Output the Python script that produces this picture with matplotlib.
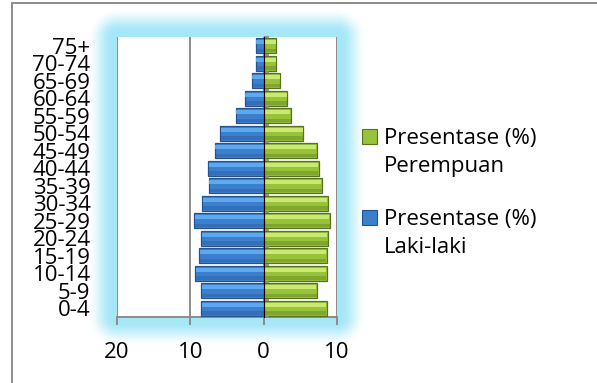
import numpy as np
import matplotlib
matplotlib.use("Agg")
import matplotlib.pyplot as plt
from matplotlib.patches import Rectangle
from matplotlib.legend_handler import HandlerBase
from matplotlib.ticker import FuncFormatter, NullFormatter

# Age groups, bottom to top
age_groups = ["0-4", "5-9", "10-14", "15-19", "20-24", "25-29", "30-34", "35-39",
              "40-44", "45-49", "50-54", "55-59", "60-64", "65-69", "70-74", "75+"]
# Percentage of population per age group
pct_female = [8.6, 7.3, 8.6, 8.6, 8.8, 9.1, 8.8, 8.0, 7.5, 7.3, 5.4, 3.7, 3.2, 2.2, 1.7, 1.7]
pct_male = [8.6, 8.5, 9.3, 8.8, 8.5, 9.5, 8.4, 7.5, 7.6, 6.7, 5.9, 3.8, 2.6, 1.6, 1.1, 1.1]
x_ticks = [-20, -10, 0, 10]

label_female = "Presentase (%)\nPerempuan"
label_male = "Presentase (%)\nLaki-laki"

FONT = "Open Sans"
FS = 16
GRAY = "#8c8c8c"
GREEN = ("#98c23a", "#d2f07a", "#58731d")   # face, highlight, edge
BLUE = ("#3c7fcf", "#62b1f4", "#27528f")

W, H = 597, 383
fig = plt.figure(figsize=(W / 100, H / 100), dpi=100)
fig.patch.set_facecolor("white")

# plot area (pixels, top-left origin)
px0, px1, py0, py1 = 117, 337, 37, 317

# soft cyan glow around the plot area
yy, xx = np.mgrid[0:H, 0:W] + 0.5
dx = np.maximum(np.maximum(px0 - xx, xx - px1), 0)
dy = np.maximum(np.maximum(py0 - yy, yy - py1), 0)
d = np.hypot(dx, dy)
t = np.clip((d - 5) / 24, 0, 1)
alpha = 1 - t * t * (3 - 2 * t)
glow = np.zeros((H, W, 4))
glow[..., 0] = 166 / 255
glow[..., 1] = 231 / 255
glow[..., 2] = 247 / 255
glow[..., 3] = alpha
fig.figimage(glow, 0, 0, origin="upper", zorder=0)

# outer frame (top and left edges visible)
fig.add_artist(Rectangle((12 / W, -0.2), 2, 1.2 - 3 / H, transform=fig.transFigure,
                         fill=False, ec=GRAY, lw=1.4, zorder=1))

ax = fig.add_axes([px0 / W, 1 - py1 / H, (px1 - px0) / W, (py1 - py0) / H])
ax.set_zorder(2)
ax.set_facecolor("white")

y = np.arange(len(age_groups))
female = np.array(pct_female)
male = -np.array(pct_male)
bh = 0.88

def bevel_bars(vals, cols, label):
    face, light, edge = cols
    bars = ax.barh(y, vals, height=bh, color=face, edgecolor=edge, linewidth=0.9,
                   zorder=3, label=label)
    ax.barh(y + bh * 0.22, vals * 0.985, height=bh * 0.26, color=light,
            edgecolor="none", zorder=4, alpha=0.85)
    ax.barh(y - bh * 0.3, vals * 0.99, height=bh * 0.22, color=edge,
            edgecolor="none", zorder=4, alpha=0.35)
    return bars

bars_m = bevel_bars(male, BLUE, label_male)
bars_f = bevel_bars(female, GREEN, label_female)

ax.set_xlim(-20, 10)
ax.set_ylim(-0.5, len(age_groups) - 0.5)
ax.set_xticks(x_ticks)
ax.xaxis.set_major_formatter(FuncFormatter(lambda v, p: f"{abs(v):g}"))
ax.grid(axis="x", color=GRAY, lw=1.4, zorder=1)
ax.set_axisbelow(True)
for s in ["top", "left", "right"]:
    ax.spines[s].set_visible(False)
ax.spines["bottom"].set_color(GRAY)
ax.spines["bottom"].set_linewidth(1.4)
ax.tick_params(axis="x", length=6, width=1.4, color=GRAY, pad=12,
               labelsize=FS)
ax.set_yticks(y)
ax.set_yticklabels(age_groups)
ax.tick_params(axis="y", length=0, pad=19, labelsize=FS)
for lab in ax.get_xticklabels() + ax.get_yticklabels():
    lab.set_fontfamily(FONT)

# category axis along zero
zero_frac = (0 - (-20)) / 30
sec = ax.secondary_yaxis(zero_frac)
sec.set_yticks(np.arange(len(age_groups) + 1) - 0.5)
sec.yaxis.set_major_formatter(NullFormatter())
sec.tick_params(axis="y", length=3.5, width=1.3, color=GRAY,
                labelleft=False, labelright=False)
sec.spines["left"].set_color(GRAY)
sec.spines["left"].set_linewidth(1.4)
sec.set_zorder(5)


class TopSquare(HandlerBase):
    def create_artists(self, legend, orig_handle, xdescent, ydescent, width,
                       height, fontsize, trans):
        size = width
        face = orig_handle.patches[0].get_facecolor()
        edge = orig_handle.patches[0].get_edgecolor()
        yc = -ydescent + height / 2 + 0.72 * fontsize
        r = Rectangle((-xdescent, yc - size / 2), size, size, facecolor=face,
                      edgecolor=edge, lw=0.8, transform=trans)
        return [r]


leg = ax.legend([bars_f, bars_m], [label_female, label_male],
                handler_map={type(bars_f): TopSquare()},
                loc="upper left", bbox_to_anchor=(362 / W, 1 - 128 / H),
                bbox_transform=fig.transFigure, frameon=False,
                prop={"family": FONT, "size": FS}, handlelength=0.68,
                handleheight=0.7, handletextpad=0.32, labelspacing=1.43,
                borderpad=0, borderaxespad=0)
for txt in leg.get_texts():
    txt.set_linespacing(1.45)

fig.savefig("out.png", dpi=100)
